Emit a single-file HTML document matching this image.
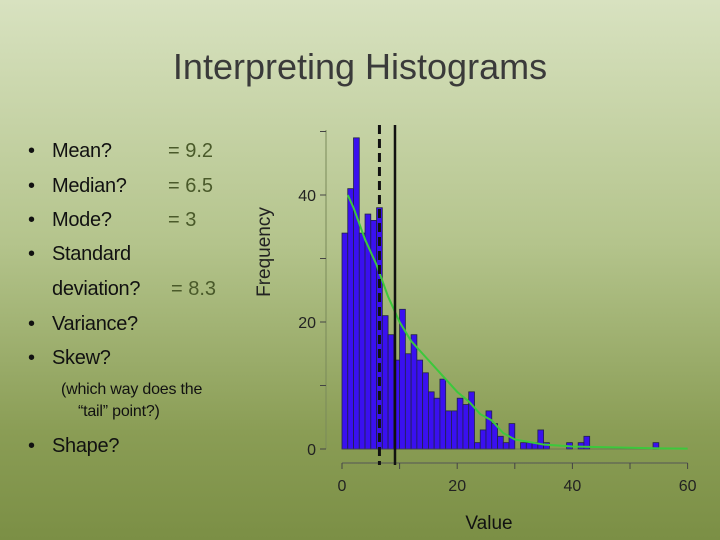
<!DOCTYPE html>
<html><head><meta charset="utf-8"><style>
body{margin:0;}
#slide{position:relative;width:720px;height:540px;overflow:hidden;background:linear-gradient(#d8e2c0 0%,#b4c48c 45%,#8a9d55 80%,#7b8f45 100%);font-family:"Liberation Sans",sans-serif;}
.t{position:absolute;color:#222;white-space:nowrap;}
.b{position:absolute;left:28px;font-size:20px;color:#111;line-height:24px;}
.l{position:absolute;left:52px;font-size:20px;color:#111;line-height:24px;letter-spacing:-0.3px;white-space:nowrap;}
.v{position:absolute;font-size:20px;color:#4a5a2a;line-height:24px;white-space:nowrap;}
</style></head><body>
<div id="slide">
<div class="t" style="left:0;width:720px;text-align:center;top:46px;font-size:36px;color:#3a3a3a;">Interpreting Histograms</div>
<div>
<div class="b" style="top:139px">•</div>
<div class="l" style="top:139px">Mean?</div>
<div class="v" style="top:139px;left:168px">= 9.2</div>
<div class="b" style="top:174px">•</div>
<div class="l" style="top:174px">Median?</div>
<div class="v" style="top:174px;left:168px">= 6.5</div>
<div class="b" style="top:208px">•</div>
<div class="l" style="top:208px">Mode?</div>
<div class="v" style="top:208px;left:168px">= 3</div>
<div class="b" style="top:242px">•</div>
<div class="l" style="top:242px">Standard</div>
<div class="l" style="top:277px">deviation?</div>
<div class="v" style="top:277px;left:171px">= 8.3</div>
<div class="b" style="top:312px">•</div>
<div class="l" style="top:312px">Variance?</div>
<div class="b" style="top:346px">•</div>
<div class="l" style="top:346px">Skew?</div>
<div class="b" style="top:434px">•</div>
<div class="l" style="top:434px">Shape?</div>
</div>
<div class="t" style="left:61px;top:379px;font-size:16px;line-height:22px;color:#111;letter-spacing:-0.2px;">(which way does the<br>&nbsp;&nbsp;&nbsp;&nbsp;“tail” point?)</div>
<svg id="chart" width="720" height="540" style="position:absolute;left:0;top:0"></svg>
</div>
<script>
const counts=[34,41,49,34,37,36,38,21,18,14,22,15,18,14,12,9,8,11,6,6,8,7,9,1,3,6,4,2,1,4,0,1,1,1,3,1,0,0,0,1,0,1,2,0,0,0,0,0,0,0,0,0,0,0,1];
const curveX=[1,2,4,6,8,10,12,14,16,18,20,22,24,26,28,30,35,40,45,50,55,60];
const curveY=[40,38,33,29,24,20,17,15,13,11,9,7.5,5.5,4.5,2.5,1.5,0.7,0.4,0.3,0.2,0.1,0.05];
const xTicks=[0,10,20,30,40,50,60];
const xLabels=[0,20,40,60];
const yTicks=[0,10,20,30,40,50];
const yLabels=[0,20,40];
const median=6.5, mean=9.2;
const sx=v=>342+v*5.76, sy=v=>449-v*6.35;
const svg=document.getElementById('chart');const NS='http://www.w3.org/2000/svg';
function mk(tag,a,name){const e=document.createElementNS(NS,tag);for(const k in a)e.setAttribute(k,a[k]);


svg.appendChild(e);return e;}
mk('line',{x1:326,y1:130,x2:326,y2:449,stroke:'#7a8a5a','stroke-width':1},'y-axis');
yTicks.forEach(t=>{mk('line',{x1:320,y1:sy(t),x2:326,y2:sy(t),stroke:'#444'},'y-tick');});
yLabels.forEach(t=>{const e=mk('text',{x:316,y:sy(t)+6,'text-anchor':'end','font-size':16,fill:'#222','font-family':'Liberation Sans'},'y-tick-label');e.textContent=t;});
mk('line',{x1:sx(0),y1:463,x2:sx(60),y2:463,stroke:'#555'},'x-axis');
xTicks.forEach(t=>{mk('line',{x1:sx(t),y1:463,x2:sx(t),y2:469,stroke:'#444'},'x-tick');});
xLabels.forEach(t=>{const e=mk('text',{x:sx(t),y:491,'text-anchor':'middle','font-size':16,fill:'#222','font-family':'Liberation Sans'},'x-tick-label');e.textContent=t;});
counts.forEach((c,i)=>{if(c>0)mk('rect',{x:sx(i),y:sy(c),width:5.76,height:sy(0)-sy(c),fill:'#3a10f0',stroke:'#22224a','stroke-width':0.8},'bar');});
mk('line',{x1:sx(0),y1:449,x2:sx(60),y2:449,stroke:'#555','stroke-width':0.6},'baseline');
mk('path',{d:curveX.map((x,i)=>(i?'L':'M')+sx(x)+' '+sy(curveY[i])).join(' '),fill:'none',stroke:'#3cc83c','stroke-width':2},'density-curve');
mk('line',{x1:sx(median),y1:125,x2:sx(median),y2:465,stroke:'#111','stroke-width':3,'stroke-dasharray':'9,5'},'median-line');
mk('line',{x1:sx(mean),y1:125,x2:sx(mean),y2:465,stroke:'#111','stroke-width':2.5},'mean-line');
let e=mk('text',{x:489,y:529,'text-anchor':'middle','font-size':19,fill:'#111','font-family':'Liberation Sans'},'x-axis-title');e.textContent='Value';
e=mk('text',{x:270,y:252,'text-anchor':'middle','font-size':19,fill:'#222','font-family':'Liberation Sans',transform:'rotate(-90 270 252)'},'y-axis-title');e.textContent='Frequency';
</script>
</body></html>
